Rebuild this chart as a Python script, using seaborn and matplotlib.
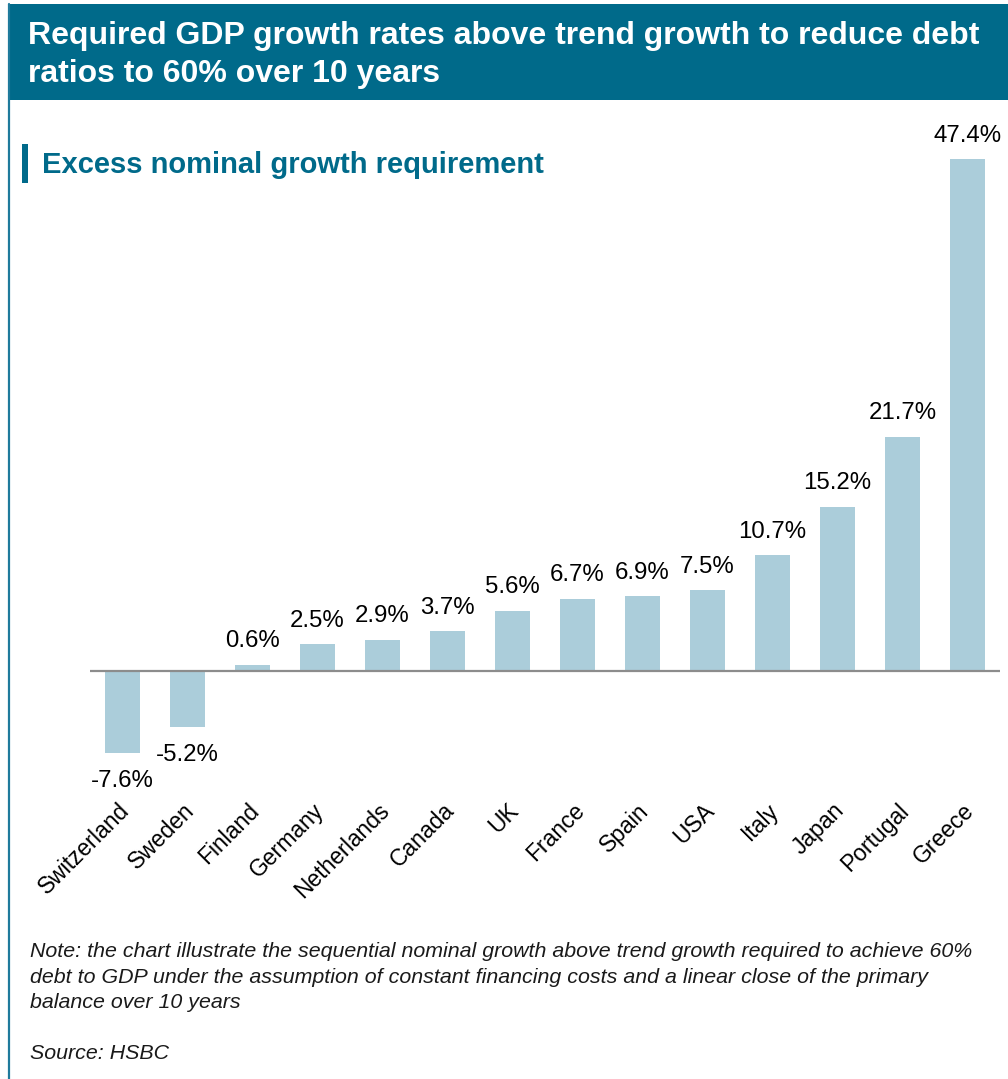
import matplotlib
matplotlib.use("Agg")
import matplotlib.pyplot as plt
import matplotlib.transforms as mtransforms
from matplotlib.patches import Rectangle
import seaborn as sns
import pandas as pd

countries = ["Switzerland", "Sweden", "Finland", "Germany", "Netherlands", "Canada",
             "UK", "France", "Spain", "USA", "Italy", "Japan", "Portugal", "Greece"]
excess_growth = [-7.6, -5.2, 0.6, 2.5, 2.9, 3.7, 5.6, 6.7, 6.9, 7.5, 10.7, 15.2, 21.7, 47.4]

title_lines = ["Required GDP growth rates above trend growth to reduce debt",
               "ratios to 60% over 10 years"]
subtitle = "Excess nominal growth requirement"
note_lines = ["Note: the chart illustrate the sequential nominal growth above trend growth required to achieve 60%",
              "debt to GDP under the assumption of constant financing costs and a linear close of the primary",
              "balance over 10 years"]
source = "Source: HSBC"

HEADER = "#006A8A"
BAR = "#ABCDDA"

sns.set_theme(style="white")
plt.rcParams["font.family"] = ["Liberation Sans", "DejaVu Sans"]

W, H = 1008, 1079
fig = plt.figure(figsize=(W / 100, H / 100), dpi=100)


def fx(px):
    return px / W


def fy(py):
    return 1 - py / H


# header band and left frame line
fig.patches.append(Rectangle((fx(8), fy(100)), fx(1000), 96 / H, transform=fig.transFigure,
                             facecolor=HEADER, edgecolor="none", zorder=0))
fig.lines.append(plt.Line2D([fx(8.5), fx(8.5)], [fy(4), 0], transform=fig.transFigure,
                            color="#1F7A9C", lw=1.6))
fig.text(fx(28), fy(44), title_lines[0], color="white", fontsize=23, fontweight="bold", va="baseline")
fig.text(fx(28), fy(82), title_lines[1], color="white", fontsize=23, fontweight="bold", va="baseline")

# subtitle with accent bar
fig.patches.append(Rectangle((fx(22), fy(183)), fx(6), 39 / H, transform=fig.transFigure,
                             facecolor=HEADER, edgecolor="none"))
fig.text(fx(42), fy(173), subtitle, color=HEADER, fontsize=21, fontweight="bold", va="baseline")

# chart area
ax_top, ax_bot = 110, 760
zero_px = 671
ppu = (zero_px - 159) / 47.4
ax = fig.add_axes([fx(90), fy(ax_bot), fx(910), (ax_bot - ax_top) / H])
df = pd.DataFrame({"country": countries, "value": excess_growth})
sns.barplot(data=df, x="country", y="value", color=BAR, saturation=1, width=0.54,
            ax=ax, edgecolor="none")
ax.set_xlim(-0.5, len(countries) - 0.5)
ax.set_ylim(-(ax_bot - zero_px) / ppu, (zero_px - ax_top) / ppu)
ax.axhline(0, color="#8C8C8C", lw=1.6, zorder=3)
for s in ax.spines.values():
    s.set_visible(False)
ax.set_yticks([])
ax.set_xlabel("")
ax.set_ylabel("")
ax.tick_params(axis="x", length=0, pad=34)
ax.set_xticks(range(len(countries)))
ax.set_xticklabels(countries, rotation=45, ha="right", va="center",
                   rotation_mode="anchor", fontsize=16.5, color="black")
shift = mtransforms.ScaledTranslation(3 / 100, 0, fig.dpi_scale_trans)
for lbl in ax.get_xticklabels():
    lbl.set_transform(lbl.get_transform() + shift)
ax.patch.set_alpha(0)

for i, v in enumerate(excess_growth):
    if v >= 0:
        ax.annotate(f"{v:.1f}%", (i, v), xytext=(0, 12.5), textcoords="offset points",
                    ha="center", va="baseline", fontsize=17.3, color="black")
    else:
        ax.annotate(f"{v:.1f}%", (i, v), xytext=(0, -12), textcoords="offset points",
                    ha="center", va="top", fontsize=17.3, color="black")

# footnotes
for j, line in enumerate(note_lines):
    fig.text(fx(30), fy([957, 983, 1008][j]), line, fontsize=15.4, style="italic",
             color="#1A1A1A", va="baseline")
fig.text(fx(30), fy(1059), source, fontsize=15.4, style="italic", color="#1A1A1A", va="baseline")

fig.savefig("out.png", dpi=100, facecolor="white")
